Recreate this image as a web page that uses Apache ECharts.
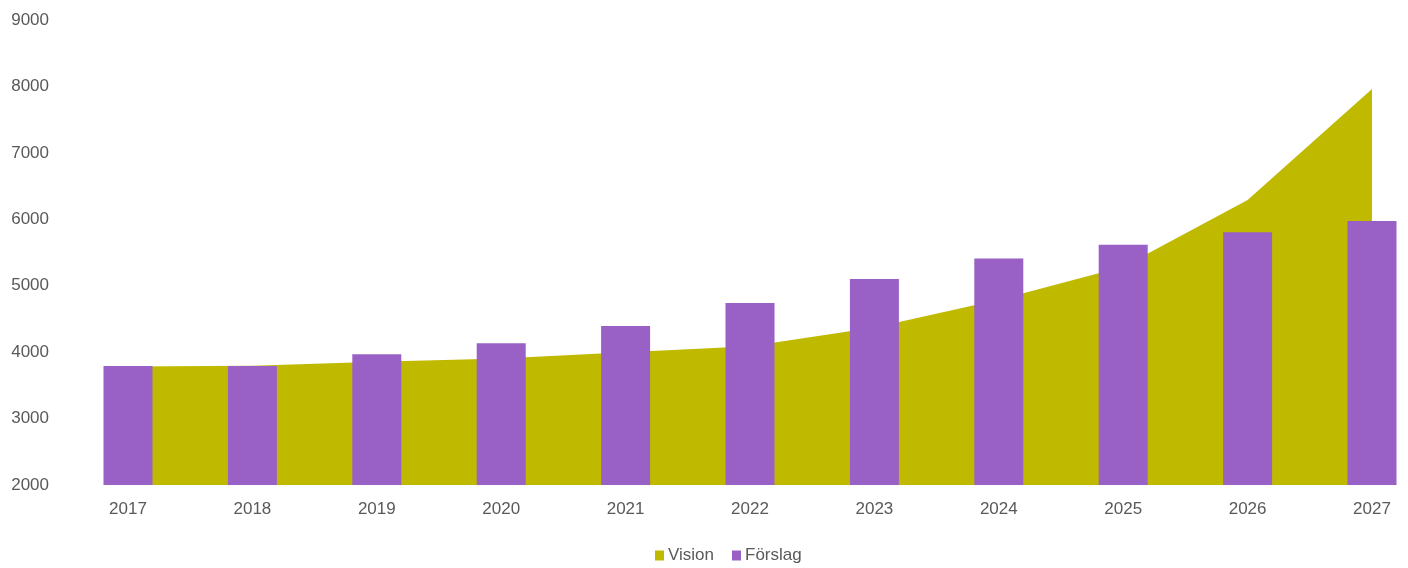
<!DOCTYPE html>
<html>
<head>
<meta charset="utf-8">
<script src="https://cdn.jsdelivr.net/npm/echarts@6/dist/echarts.min.js"></script>
<style>
html,body{margin:0;padding:0;background:#fff;}
#chart{width:1408px;height:568px;}
</style>
</head>
<body>
<div id="chart"></div>
<script>
var categories = ['2017','2018','2019','2020','2021','2022','2023','2024','2025','2026','2027'];
var visionValues = [3785, 3795, 3855, 3905, 4000, 4090, 4370, 4790, 5285, 6290, 7960];
var forslagValues = [3790, 3790, 3970, 4135, 4395, 4740, 5100, 5410, 5615, 5805, 5975];
var yTicks = {min: 2000, max: 9000, interval: 1000};

var textColor = '#595959';
var fontFamily = '"Liberation Sans", Arial, sans-serif';

var chart = echarts.init(document.getElementById('chart'));
chart.setOption({
  animation: false,
  textStyle: {fontFamily: fontFamily},
  grid: {left: 128, right: 36, top: 20, bottom: 83, containLabel: false},
  legend: {
    data: ['Vision', 'Förslag'],
    left: 655,
    top: 547,
    padding: 0,
    icon: 'rect',
    itemWidth: 9,
    itemHeight: 10,
    itemGap: 18,
    textStyle: {color: textColor, fontSize: 17, fontFamily: fontFamily, padding: [0,0,0,-1]}
  },
  xAxis: {
    type: 'category',
    data: categories,
    boundaryGap: false,
    axisLine: {show: false},
    axisTick: {show: false},
    splitLine: {show: false},
    axisLabel: {color: textColor, fontSize: 17, margin: 16, fontFamily: fontFamily, interval: 0}
  },
  yAxis: {
    type: 'value',
    min: yTicks.min,
    max: yTicks.max,
    startValue: yTicks.min,
    interval: yTicks.interval,
    axisLine: {show: false},
    axisTick: {show: false},
    splitLine: {show: false},
    axisLabel: {color: textColor, fontSize: 17, margin: 79, fontFamily: fontFamily,
      formatter: function (v) { return String(v); }}
  },
  series: [
    {
      name: 'Vision',
      type: 'line',
      data: visionValues,
      symbol: 'none',
      lineStyle: {width: 0, color: '#BFBA00'},
      itemStyle: {color: '#BFBA00'},
      areaStyle: {color: '#BFBA00', opacity: 1},
      z: 1
    },
    {
      name: 'Förslag',
      type: 'bar',
      data: forslagValues,
      barWidth: 49,
      clip: false,
      itemStyle: {color: '#9961C5'},
      z: 2
    }
  ]
});
</script>
</body>
</html>
